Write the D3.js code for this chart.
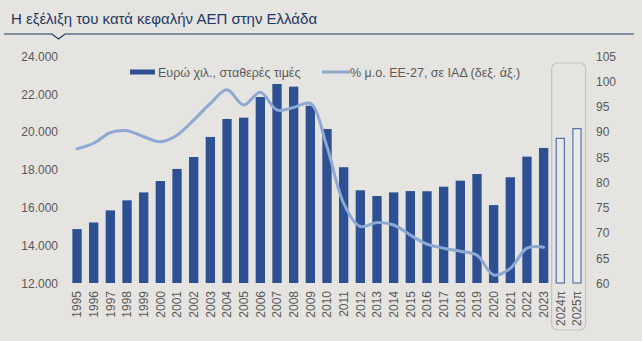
<!DOCTYPE html>
<html>
<head>
<meta charset="utf-8">
<script src="https://cdn.jsdelivr.net/npm/d3@7"></script>
<style>
  html, body { margin: 0; padding: 0; background: #e5e4e0; }
  svg { display: block; }
</style>
</head>
<body>
<svg id="chart" width="642" height="341"></svg>
<script>
const categories = ["1995","1996","1997","1998","1999","2000","2001","2002","2003","2004","2005","2006","2007","2008","2009","2010","2011","2012","2013","2014","2015","2016","2017","2018","2019","2020","2021","2022","2023","2024π","2025π"];
const gdpPerCapita = [14850,15200,15840,16370,16790,17390,18030,18660,19720,20670,20740,21830,22520,22380,21370,20140,18120,16900,16600,16790,16860,16850,17090,17410,17760,16120,17590,18680,19140,19650,20160];
const forecastCats = ["2024π","2025π"];
const euShareCats = categories.slice(0, 29);
const euShare = [86.6,87.7,89.8,90.2,89.0,88.0,89.3,92.3,95.6,98.3,95.3,97.8,94.3,94.8,95.6,87.0,75.8,71.2,72.0,71.5,69.5,67.7,66.9,66.3,65.5,61.6,62.9,66.9,67.1];
const leftTicks = [12000,14000,16000,18000,20000,22000,24000];
const rightTicks = [60,65,70,75,80,85,90,95,100,105];
const title = "Η εξέλιξη του κατά κεφαλήν ΑΕΠ στην Ελλάδα";
const legendLabels = ["Ευρώ χιλ., σταθερές τιμές", "% μ.ο. ΕΕ-27, σε ΙΑΔ (δεξ. άξ.)"];

const svg = d3.select("#chart");
const W = 642, H = 341;
const barColor = "#2d5093", lineColor = "#8ea8d4", textColor = "#595959", titleColor = "#1f3864";
const font = "'Liberation Sans', Arial, sans-serif";
const narrow = "'Liberation Sans Narrow', 'Arial Narrow', 'Liberation Sans', Arial, sans-serif";

svg.append("rect").attr("width", W).attr("height", H).attr("fill", "#e5e4e0");

// Title
svg.append("text").attr("x", 11).attr("y", 24).attr("fill", titleColor)
  .attr("font-family", narrow).attr("font-size", 15).text(title);
svg.append("path")
  .attr("d", "M4,34 H52 L58.5,39 L65,34 H634")
  .attr("fill", "none").attr("stroke", titleColor).attr("stroke-width", 1.2);

const x = d3.scaleBand().domain(categories).range([68.7, 585.3]).paddingInner(0.44).paddingOuter(0.22);
const yL = d3.scaleLinear().domain([12000, 24000]).range([283, 56]);
const yR = d3.scaleLinear().domain([60, 105]).range([283, 56]);

// Highlight box for forecasts
const bx0 = x(forecastCats[0]) - 4, bx1 = x(forecastCats[1]) + x.bandwidth() + 4;
svg.append("rect").attr("x", bx0).attr("y", 63).attr("width", bx1 - bx0).attr("height", 267)
  .attr("rx", 6).attr("fill", "none").attr("stroke", "#c4c4c1").attr("stroke-width", 1.2);

// Left axis
const gL = svg.append("g").attr("transform", "translate(58,0)")
  .call(d3.axisLeft(yL).tickValues(leftTicks).tickSize(0).tickPadding(0)
    .tickFormat(d => d3.format(",")(d).replace(/,/g, ".")));
gL.select(".domain").remove();
gL.selectAll("text").attr("fill", textColor).attr("font-family", font).attr("font-size", 12).attr("dy", "0.36em");

// Right axis
const gR = svg.append("g").attr("transform", "translate(596,0)")
  .call(d3.axisRight(yR).tickValues(rightTicks).tickSize(0).tickPadding(0));
gR.select(".domain").remove();
gR.selectAll("text").attr("fill", textColor).attr("font-family", font).attr("font-size", 12).attr("dy", "0.36em");

// Bottom axis
const gB = svg.append("g").attr("transform", "translate(0,283)")
  .call(d3.axisBottom(x).tickSize(0).tickPadding(0));
gB.select(".domain").remove();
gB.selectAll("text").attr("fill", textColor).attr("font-family", font).attr("font-size", 12)
  .attr("text-anchor", "end").attr("dy", "0.36em")
  .attr("transform", "translate(0,8) rotate(-90)")
  .attr("x", 0).attr("y", 0);

// Bars
svg.append("g").selectAll("rect").data(categories).join("rect")
  .attr("x", d => x(d) + (forecastCats.includes(d) ? 0.6 : 0))
  .attr("width", d => x.bandwidth() - (forecastCats.includes(d) ? 1.2 : 0))
  .attr("y", (d, i) => yL(gdpPerCapita[i]))
  .attr("height", (d, i) => yL(12000) - yL(gdpPerCapita[i]))
  .attr("fill", d => forecastCats.includes(d) ? "#eaeae7" : barColor)
  .attr("stroke", d => forecastCats.includes(d) ? "#5272ab" : "none")
  .attr("stroke-width", 1.2);

// Line
const line = d3.line()
  .x((d, i) => x(euShareCats[i]) + x.bandwidth() / 2)
  .y(d => yR(d))
  .curve(d3.curveCatmullRom.alpha(0.5));
svg.append("path").datum(euShare).attr("d", line)
  .attr("fill", "none").attr("stroke", lineColor).attr("stroke-width", 3)
  .attr("stroke-linejoin", "round").attr("stroke-linecap", "round");

// Legend
const lg = svg.append("g");
lg.append("rect").attr("x", 130).attr("y", 69.5).attr("width", 25).attr("height", 5).attr("fill", barColor);
lg.append("text").attr("x", 158).attr("y", 76.5).attr("fill", textColor)
  .attr("font-family", narrow).attr("font-size", 12.5).text(legendLabels[0]);
lg.append("line").attr("x1", 322).attr("x2", 350).attr("y1", 72).attr("y2", 72)
  .attr("stroke", lineColor).attr("stroke-width", 3);
lg.append("text").attr("x", 350).attr("y", 76.5).attr("fill", textColor)
  .attr("font-family", narrow).attr("font-size", 12.5).text(legendLabels[1]);
</script>
</body>
</html>
